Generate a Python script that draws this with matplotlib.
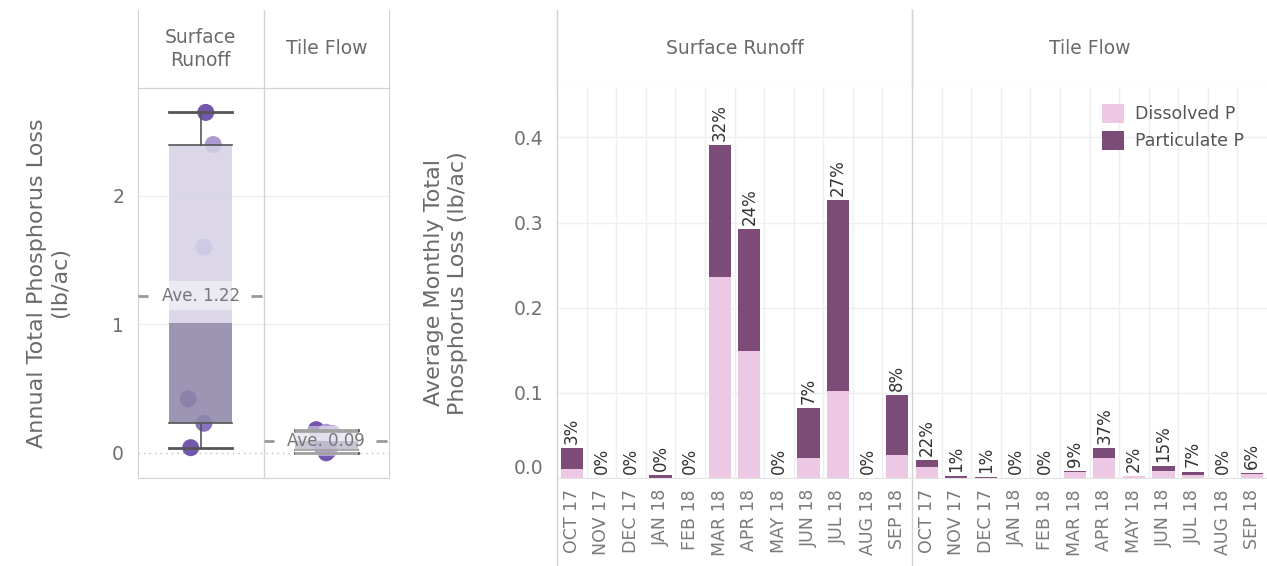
import numpy as np
import matplotlib
matplotlib.use('Agg')
import matplotlib.pyplot as plt
from matplotlib.patches import Rectangle, Patch

plt.rcParams['font.family'] = ['DejaVu Sans']

# annual totals per year (lb/ac)
surface_annual = [2.65, 2.40, 1.60, 0.42, 0.23, 0.04]
tile_annual = [0.18, 0.16, 0.15, 0.04, 0.02, 0.0]
surface_jitter = [0.04, 0.10, 0.025, -0.10, 0.025, -0.08]
tile_jitter = [-0.08, 0.0, 0.05, -0.03, 0.02, 0.0]
flow_names = ['Surface\nRunoff', 'Tile Flow']

# monthly averages (lb/ac)
months = ['OCT 17', 'NOV 17', 'DEC 17', 'JAN 18', 'FEB 18', 'MAR 18',
          'APR 18', 'MAY 18', 'JUN 18', 'JUL 18', 'AUG 18', 'SEP 18']
surface_dissolved = [0.010, 0, 0, 0, 0, 0.236, 0.149, 0, 0.024, 0.102, 0, 0.027]
surface_particulate = [0.025, 0, 0, 0.003, 0, 0.155, 0.143, 0, 0.058, 0.224, 0, 0.070]
surface_pct = ['3%', '0%', '0%', '0%', '0%', '32%', '24%', '0%', '7%', '27%', '0%', '8%']
tile_dissolved = [0.0125, 0.0005, 0.0003, 0, 0, 0.0066, 0.024, 0.0018, 0.0086, 0.0035, 0, 0.0045]
tile_particulate = [0.0085, 0.0015, 0.0007, 0, 0, 0.0019, 0.011, 0.0002, 0.0054, 0.004, 0, 0.0015]
tile_pct = ['22%', '1%', '1%', '0%', '0%', '9%', '37%', '2%', '15%', '7%', '0%', '6%']
panel_names = ['Surface Runoff', 'Tile Flow']

PINK = '#edc8e4'
PLUM = '#7c4b78'
BORDER = '#d3d3d3'
GRID = '#efefef'
TXT = '#707070'

W, H = 1267, 566
fig = plt.figure(figsize=(W / 100, H / 100), dpi=100)


def rect(x0, y0, x1, y1):
    # pixel box (top-left origin) -> figure fraction
    return [x0 / W, 1 - y1 / H, (x1 - x0) / W, (y1 - y0) / H]


def quartiles(v):
    v = sorted(v)
    n = len(v)
    lo, hi = v[:n // 2], v[(n + 1) // 2:]
    return np.median(lo), np.median(v), np.median(hi)


# ---------------- left: box plot ----------------
hb = fig.add_axes(rect(138, 10, 389, 88))
hb.set_xlim(0, 2)
hb.set_ylim(0, 1)
hb.set_xticks([])
hb.set_yticks([])
for s in ['left', 'right', 'bottom']:
    hb.spines[s].set_color(BORDER)
hb.spines['top'].set_visible(False)
hb.axvline(1, color=BORDER, lw=1)
for i, name in enumerate(flow_names):
    hb.text(i + 0.5, 0.5, name, ha='center', va='center', fontsize=13.5,
            color='#6a6a6a', linespacing=1.25)

ab = fig.add_axes(rect(138, 88, 389, 478))
ab.set_xlim(0, 2)
ab.set_ylim(-0.196, 2.84)
for s in ['left', 'right', 'bottom', 'top']:
    ab.spines[s].set_color(BORDER)
ab.axvline(1, color=BORDER, lw=1)
ab.set_xticks([])
ab.set_yticks([0, 1, 2])
ab.tick_params(axis='y', length=0, pad=10, labelsize=13.5, labelcolor=TXT)
for yv in [1, 2]:
    ab.axhline(yv, color=GRID, lw=1, zorder=0)
ab.axhline(0, color='#bbbbbb', lw=1, ls=(0, (1, 3)), zorder=0)
ab.set_ylabel('Annual Total Phosphorus Loss\n(lb/ac)', fontsize=16, color='#6a6a6a',
              labelpad=30, linespacing=1.25)

pt_colors = ['#7556ad', '#ab9bd0', '#b3a5d6', '#7058a6', '#8a73be', '#7556ad']
for col, (vals, jit) in enumerate([(surface_annual, surface_jitter), (tile_annual, tile_jitter)]):
    cx = col + 0.5
    q1, med, q3 = quartiles(vals)
    avg = np.mean(vals)
    ab.scatter([cx + j for j in jit], vals, s=150, c=pt_colors, zorder=2, linewidths=0)
    ab.add_patch(Rectangle((cx - 0.25, med), 0.5, q3 - med, facecolor='#d5d1e6',
                           alpha=0.85, lw=0, zorder=3))
    ab.add_patch(Rectangle((cx - 0.25, q1), 0.5, med - q1, facecolor='#8f88aa',
                           alpha=0.88, lw=0, zorder=3))
    lo, hi = min(vals), max(vals)
    ab.plot([cx - 0.25, cx + 0.25], [hi, hi], color='#555555', lw=2, zorder=4)
    ab.plot([cx - 0.25, cx + 0.25], [lo, lo], color='#555555', lw=2, zorder=4)
    ab.plot([cx - 0.25, cx + 0.25], [q3, q3], color='#555555', lw=1.2, zorder=4)
    ab.plot([cx - 0.25, cx + 0.25], [q1, q1], color='#555555', lw=1.2, zorder=4)
    ab.plot([cx, cx], [q3, hi], color='#555555', lw=1.2, zorder=4)
    ab.plot([cx, cx], [lo, q1], color='#555555', lw=1.2, zorder=4)
    # average reference line with label
    ab.add_patch(Rectangle((cx - 0.25, avg - 0.115), 0.5, 0.23, facecolor='white',
                           alpha=0.45, lw=0, zorder=5))
    ab.plot([col, col + 0.08], [avg, avg], color='#999999', lw=2, ls=(0, (4, 3)), zorder=5)
    ab.plot([col + 0.9, col + 1], [avg, avg], color='#999999', lw=2, ls=(0, (4, 3)), zorder=5)
    ab.text(cx, avg, 'Ave. %.2f' % avg, ha='center', va='center', fontsize=12,
            color='#777777', zorder=6)

# ---------------- right: stacked bars ----------------
hr = fig.add_axes(rect(557, 10, 1267, 88))
hr.set_xlim(0, 24)
hr.set_ylim(0, 1)
hr.set_xticks([])
hr.set_yticks([])
for s in ['top', 'right']:
    hr.spines[s].set_visible(False)
hr.spines['left'].set_color(BORDER)
hr.spines['bottom'].set_color(BORDER)
hr.axvline(12, color=BORDER, lw=1)
for i, name in enumerate(panel_names):
    hr.text(12 * i + 6, 0.5, name, ha='center', va='center', fontsize=13.5, color='#6a6a6a')

ax = fig.add_axes(rect(557, 88, 1267, 478))
ax.set_xlim(0, 24)
ax.set_ylim(0, 0.458)
for s in ['top', 'right', 'left']:
    ax.spines[s].set_visible(False)
ax.spines['bottom'].set_color('#e3e3e3')
for yv in [0.1, 0.2, 0.3, 0.4]:
    ax.axhline(yv, color=GRID, lw=1, zorder=0)
for xv in range(1, 24):
    if xv != 12:
        ax.axvline(xv, color=GRID, lw=1, zorder=0)
for xv in [0, 12]:
    ax.axvline(xv, ymin=-0.226, ymax=1.2, color=BORDER, lw=1, clip_on=False)

dis = surface_dissolved + tile_dissolved
par = surface_particulate + tile_particulate
pct = surface_pct + tile_pct
xs = np.arange(24) + 0.5
ax.bar(xs, dis, width=0.75, color=PINK, label='Dissolved P', zorder=2)
ax.bar(xs, par, width=0.75, bottom=dis, color=PLUM, label='Particulate P', zorder=2)
for x, d, p, lab in zip(xs, dis, par, pct):
    ax.annotate(lab, (x, d + p), xytext=(0, 3), textcoords='offset points', rotation=90,
                ha='center', va='bottom', fontsize=12, color='#333333')

ax.set_yticks([0, 0.1, 0.2, 0.3, 0.4])
ax.set_yticklabels(['0.0', '0.1', '0.2', '0.3', '0.4'])
ax.tick_params(axis='y', length=0, pad=10, labelsize=13.5, labelcolor=TXT)
ax.get_yticklabels()[0].set_va('bottom')
ax.set_xticks(xs)
ax.set_xticklabels(months + months, rotation=90)
ax.tick_params(axis='x', length=0, pad=8, labelsize=12.5, labelcolor='#7a7a7a')
ax.set_ylabel('Average Monthly Total\nPhosphorus Loss (lb/ac)', fontsize=16, color='#6a6a6a',
              labelpad=33, linespacing=1.25)

handles = [Patch(facecolor=PINK), Patch(facecolor=PLUM)]
ax.legend(handles, ['Dissolved P', 'Particulate P'], loc='upper left',
          bbox_to_anchor=(0.745, 1.0), frameon=False, fontsize=12.5,
          handlelength=1.3, handleheight=1.3, handletextpad=0.6, labelspacing=0.45,
          labelcolor='#555555')

fig.savefig('out.png', dpi=100)
